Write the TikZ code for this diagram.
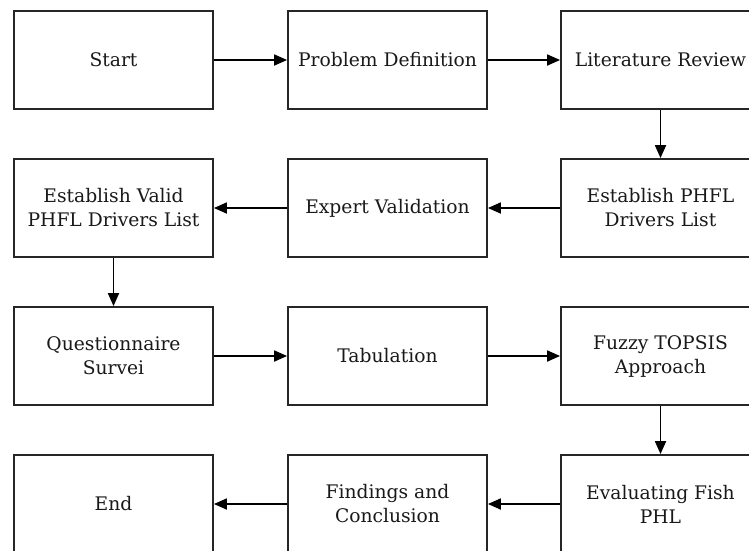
\documentclass[tikz,border=0pt]{standalone}
\usepackage{fontspec}
\setmainfont{DejaVu Serif}
\usetikzlibrary{arrows.meta}
\begin{document}
\begin{tikzpicture}[x=1pt,y=-1pt,
  stepbox/.style={draw=black!85,line width=1.8pt,minimum width=199pt,minimum height=98pt,
    align=center,inner sep=0pt,font=\fontsize{18.7}{24}\selectfont,text=black!90},
  flow/.style={draw=black,line width=1.8pt,-{Triangle[length=13pt,width=11pt]}}]
\path[use as bounding box,clip] (0,0) rectangle (749,550);
\fill[white] (0,0) rectangle (749,550);
\node[stepbox] (start) at (113.5,60) {Start};
\node[stepbox] (prob) at (387.5,60) {Problem Definition};
\node[stepbox] (lit) at (660.5,60) {Literature Review};
\node[stepbox] (estab) at (660.5,208) {Establish PHFL\\Drivers List};
\node[stepbox] (expert) at (387.5,208) {Expert Validation};
\node[stepbox] (valid) at (113.5,208) {Establish Valid\\PHFL Drivers List};
\node[stepbox] (quest) at (113.5,356) {Questionnaire\\Survei};
\node[stepbox] (tab) at (387.5,356) {Tabulation};
\node[stepbox] (fuzzy) at (660.5,356) {Fuzzy TOPSIS\\Approach};
\node[stepbox] (eval) at (660.5,504) {Evaluating Fish\\PHL};
\node[stepbox] (find) at (387.5,504) {Findings and\\Conclusion};
\node[stepbox] (end) at (113.5,504) {End};
\draw[flow] (start) -- (prob);
\draw[flow] (prob) -- (lit);
\draw[flow] (lit) -- (estab);
\draw[flow] (estab) -- (expert);
\draw[flow] (expert) -- (valid);
\draw[flow] (valid) -- (quest);
\draw[flow] (quest) -- (tab);
\draw[flow] (tab) -- (fuzzy);
\draw[flow] (fuzzy) -- (eval);
\draw[flow] (eval) -- (find);
\draw[flow] (find) -- (end);
\end{tikzpicture}
\end{document}
